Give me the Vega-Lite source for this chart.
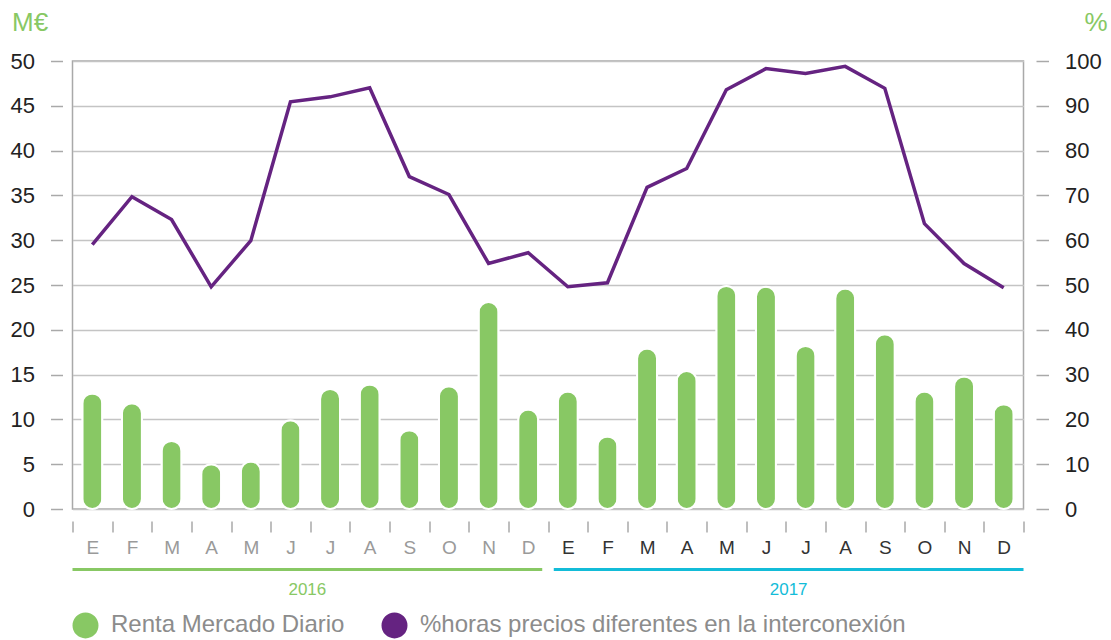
{
  "$schema": "https://vega.github.io/schema/vega-lite/v6.json",
  "padding": {"left": 8.5, "top": 8, "right": 5, "bottom": 2},
  "background": "white",
  "config": {"font": "Liberation Sans", "concat": {"spacing": 10}},
  "datasets": {
    "meses": [
      {"id": "2016-01", "renta": 12.9, "pct": 59.0},
      {"id": "2016-02", "renta": 11.8, "pct": 69.7},
      {"id": "2016-03", "renta": 7.6, "pct": 64.6},
      {"id": "2016-04", "renta": 5.0, "pct": 49.6},
      {"id": "2016-05", "renta": 5.3, "pct": 59.9},
      {"id": "2016-06", "renta": 9.9, "pct": 90.9},
      {"id": "2016-07", "renta": 13.4, "pct": 92.0},
      {"id": "2016-08", "renta": 13.9, "pct": 94.0},
      {"id": "2016-09", "renta": 8.8, "pct": 74.2},
      {"id": "2016-10", "renta": 13.7, "pct": 70.2},
      {"id": "2016-11", "renta": 23.1, "pct": 54.8},
      {"id": "2016-12", "renta": 11.1, "pct": 57.2},
      {"id": "2017-01", "renta": 13.1, "pct": 49.6},
      {"id": "2017-02", "renta": 8.1, "pct": 50.5},
      {"id": "2017-03", "renta": 17.9, "pct": 71.8},
      {"id": "2017-04", "renta": 15.4, "pct": 76.0},
      {"id": "2017-05", "renta": 24.9, "pct": 93.6},
      {"id": "2017-06", "renta": 24.8, "pct": 98.3},
      {"id": "2017-07", "renta": 18.2, "pct": 97.2},
      {"id": "2017-08", "renta": 24.6, "pct": 98.8},
      {"id": "2017-09", "renta": 19.5, "pct": 93.9},
      {"id": "2017-10", "renta": 13.1, "pct": 63.7},
      {"id": "2017-11", "renta": 14.8, "pct": 54.8},
      {"id": "2017-12", "renta": 11.7, "pct": 49.4}
    ],
    "anios": [{"anio": "2016"}, {"anio": "2017"}]
  },
  "vconcat": [
    {
      "width": 951,
      "height": 448,
      "data": {"name": "meses"},
      "view": {"stroke": "#a9a9a9", "strokeWidth": 1.5},
      "encoding": {
        "x": {
          "field": "id",
          "type": "nominal",
          "sort": null,
          "scale": {"paddingInner": 0, "paddingOuter": 0},
          "axis": {
            "title": null,
            "domain": false,
            "grid": false,
            "ticks": true,
            "tickBand": "extent",
            "tickColor": "#a9a9a9",
            "tickWidth": 1.5,
            "tickSize": 11,
            "offset": 12,
            "labelAngle": 0,
            "labelFontSize": 19,
            "labelPadding": 6,
            "labelExpr": "substring('EFMAMJJASOND', toNumber(substring(datum.value,5,7))-1, toNumber(substring(datum.value,5,7)))",
            "labelColor": {"condition": {"test": "substring(datum.value,0,4)=='2016'", "value": "#9a9a9a"}, "value": "#333333"}
          }
        }
      },
      "layer": [
        {
          "mark": {"type": "bar", "size": 20, "cornerRadius": 10, "stroke": "white", "strokeWidth": 2},
          "encoding": {
            "y": {
              "field": "renta",
              "type": "quantitative",
              "scale": {"domain": [0, 50]},
              "axis": {
                "values": [0, 5, 10, 15, 20, 25, 30, 35, 40, 45, 50],
                "grid": true,
                "gridColor": "#c4c4c4",
                "gridWidth": 1.5,
                "domain": false,
                "tickColor": "#a9a9a9",
                "tickSize": 12,
                "tickWidth": 1.5,
                "offset": 10,
                "labelFontSize": 22,
                "labelColor": "#222222",
                "labelPadding": 16,
                "title": "M€",
                "titleColor": "#88c864",
                "titleFontSize": 26,
                "titleFontWeight": "normal",
                "titleAngle": 0,
                "titleAlign": "left",
                "titleBaseline": "middle",
                "titleX": -51,
                "titleY": -38.5
              }
            },
            "color": {
              "datum": "Renta Mercado Diario",
              "type": "nominal",
              "scale": {
                "domain": ["Renta Mercado Diario", "%horas precios diferentes en la interconexión"],
                "range": ["#88c864", "#652381"]
              },
              "legend": {
                "orient": "bottom",
                "direction": "horizontal",
                "title": null,
                "symbolType": "circle",
                "symbolSize": 600,
                "labelFontSize": 24,
                "labelColor": "#8c8c8c",
                "labelOffset": 12.5,
                "columnPadding": 34,
                "labelLimit": 600,
                "offset": 14.5,
                "padding": 0
              }
            }
          }
        },
        {
          "mark": {"type": "line", "strokeWidth": 3.5},
          "encoding": {
            "y": {
              "field": "pct",
              "type": "quantitative",
              "scale": {"domain": [0, 100]},
              "axis": {
                "orient": "right",
                "values": [0, 10, 20, 30, 40, 50, 60, 70, 80, 90, 100],
                "grid": false,
                "domain": false,
                "tickColor": "#a9a9a9",
                "tickSize": 12.5,
                "tickWidth": 1.5,
                "offset": 12.5,
                "labelFontSize": 22,
                "labelColor": "#222222",
                "labelPadding": 16,
                "title": "%",
                "titleColor": "#88c864",
                "titleFontSize": 26,
                "titleFontWeight": "normal",
                "titleAngle": 0,
                "titleAlign": "left",
                "titleBaseline": "middle",
                "titleX": 48,
                "titleY": -38.5
              }
            },
            "color": {"datum": "%horas precios diferentes en la interconexión", "type": "nominal"}
          }
        }
      ],
      "resolve": {"scale": {"y": "independent"}}
    },
    {
      "width": 951,
      "height": 3,
      "data": {"name": "anios"},
      "view": {"stroke": null},
      "mark": {"type": "bar"},
      "encoding": {
        "x": {
          "field": "anio",
          "type": "nominal",
          "scale": {"paddingInner": 0.024, "paddingOuter": 0},
          "axis": {
            "title": null,
            "domain": false,
            "ticks": false,
            "labelAngle": 0,
            "labelFontSize": 17,
            "labelPadding": 10,
            "labelColor": {"condition": {"test": "datum.value=='2016'", "value": "#88c864"}, "value": "#13bcd8"}
          }
        },
        "fill": {
          "field": "anio",
          "type": "nominal",
          "scale": {"domain": ["2016", "2017"], "range": ["#88c864", "#13bcd8"]},
          "legend": null
        }
      }
    }
  ]
}
